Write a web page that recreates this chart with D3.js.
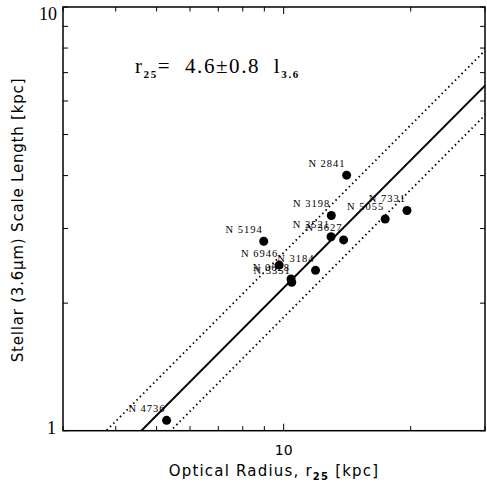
<!DOCTYPE html>
<html><head><meta charset="utf-8">
<script src="https://cdn.jsdelivr.net/npm/d3@7"></script>
<style>body{margin:0;background:#fff}</style>
</head><body><svg id="c" width="487" height="485"></svg>
<script>
const galaxies = ["N 2841","N 3198","N 7331","N 5055","N 3521","N 3627","N 5194","N 6946","N 3184","N 0628","N 3351","N 4736"];
const opticalRadius = [14.1,12.97,19.6,17.4,12.95,13.87,8.97,9.76,11.9,10.41,10.45,5.28];
const scaleLength = [4.01,3.22,3.31,3.16,2.87,2.82,2.80,2.46,2.39,2.28,2.24,1.058];
const fitCoeffs = [3.8,4.6,5.4];
const fitDashed = [true,false,true];
const xDomain = [3,30];
const yDomain = [1,10];
const xTicks = [3,4,5,6,7,8,9,10,20,30];
const yTicks = [1,2,3,4,5,6,7,8,9,10];

const L=63,R=485,T=7,B=430.7;
const svg=d3.select("#c");
const x=d3.scaleLog().domain(xDomain).range([L,R]);
const y=d3.scaleLog().domain(yDomain).range([B,T]);

svg.append("defs").append("clipPath").attr("id","clip").append("rect")
  .attr("x",L).attr("y",T).attr("width",R-L).attr("height",B-T);

// fit lines
const g=svg.append("g").attr("clip-path","url(#clip)");
fitCoeffs.forEach((c,i)=>{
  const pts=[xDomain[0]*0.9,xDomain[1]*1.1].map(r=>[x(r),y(r/c)]);
  g.append("path").attr("d",d3.line()(pts)).attr("fill","none").attr("stroke","#000")
   .attr("stroke-width",fitDashed[i]?1.8:2)
   .attr("stroke-dasharray",fitDashed[i]?"1.5,3.2":null);
});

// frame
svg.append("rect").attr("x",L).attr("y",T).attr("width",R-L).attr("height",B-T)
  .attr("fill","none").attr("stroke","#000").attr("stroke-width",1.5);

// ticks
xTicks.forEach(t=>{
  const len=t===10?7:4.5;
  svg.append("line").attr("x1",x(t)).attr("x2",x(t)).attr("y1",B).attr("y2",B-len).attr("stroke","#000").attr("stroke-width",1);
  svg.append("line").attr("x1",x(t)).attr("x2",x(t)).attr("y1",T).attr("y2",T+len).attr("stroke","#000").attr("stroke-width",1);
});
yTicks.forEach(t=>{
  const len=5;
  svg.append("line").attr("x1",L).attr("x2",L+len).attr("y1",y(t)).attr("y2",y(t)).attr("stroke","#000").attr("stroke-width",1);
  svg.append("line").attr("x1",R).attr("x2",R-len).attr("y1",y(t)).attr("y2",y(t)).attr("stroke","#000").attr("stroke-width",1);
});
// tick labels
svg.append("text").attr("x",x(10)).attr("y",B+24).attr("text-anchor","middle")
  .attr("font-family","DejaVu Sans").attr("font-size",14).text("10");
svg.append("text").attr("x",L-6).attr("y",y(10)+13).attr("text-anchor","end")
  .attr("font-family","Liberation Serif").attr("font-size",18).text("10");
svg.append("text").attr("x",L-7).attr("y",y(1)+3).attr("text-anchor","end")
  .attr("font-family","Liberation Serif").attr("font-size",18).text("1");

// axis titles
const xt=svg.append("text").attr("x",274).attr("y",476).attr("text-anchor","middle")
  .attr("font-family","DejaVu Sans").attr("font-size",15).attr("letter-spacing",1.2);
xt.append("tspan").text("Optical Radius, r");
xt.append("tspan").attr("font-size",10).attr("font-weight","bold").attr("dy",4).text("25");
xt.append("tspan").attr("dy",-4).text(" [kpc]");

svg.append("text").attr("transform","translate(23,220) rotate(-90)").attr("text-anchor","middle")
  .attr("font-family","DejaVu Sans").attr("font-size",15).attr("letter-spacing",0.8)
  .text("Stellar (3.6\u03bcm) Scale Length [kpc]");

// annotation
const an=svg.append("text").attr("x",135).attr("y",73).attr("font-family","Liberation Serif")
  .attr("font-size",21).attr("letter-spacing",1.6).style("white-space","pre");
an.append("tspan").text("r");
an.append("tspan").attr("font-size",11).attr("font-weight","bold").attr("dy",5).text("25");
an.append("tspan").attr("dy",-5).text("=  4.6\u00b10.8  l");
an.append("tspan").attr("font-size",11).attr("font-weight","bold").attr("dy",5).text("3.6");

// points
const data=galaxies.map((n,i)=>({n,r:opticalRadius[i],l:scaleLength[i]}));
svg.append("g").selectAll("circle").data(data).join("circle")
  .attr("cx",d=>x(d.r)).attr("cy",d=>y(d.l)).attr("r",4.5).attr("fill","#000");
svg.append("g").selectAll("text").data(data).join("text")
  .attr("x",d=>x(d.r)-1).attr("y",d=>y(d.l)-8.5).attr("text-anchor","end")
  .attr("font-family","Liberation Serif").attr("font-size",10.5).attr("letter-spacing",1)
  .text(d=>d.n);
</script></body></html>
